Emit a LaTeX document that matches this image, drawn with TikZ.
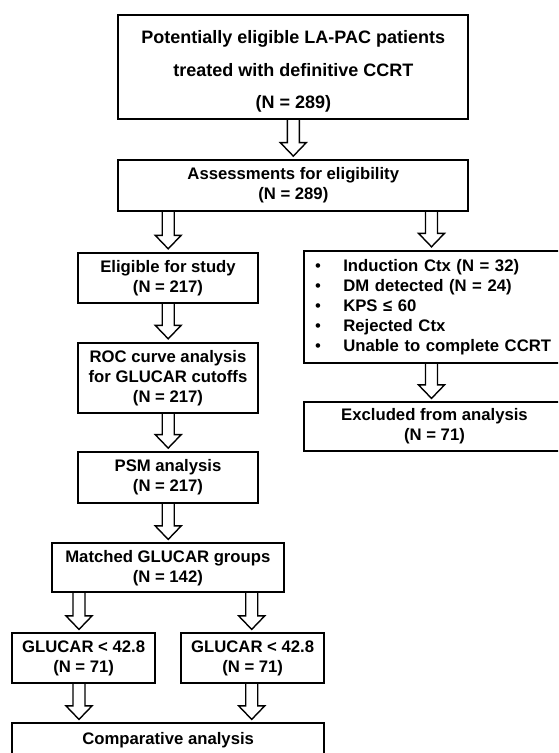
\documentclass[tikz,border=0pt]{standalone}
\usepackage{fontspec}
\setmainfont{Liberation Sans}
\usetikzlibrary{calc}
\tikzset{
  box/.style={draw=black, line width=1.8pt, inner sep=0pt, align=center,
    font=\fontsize{16.7}{20}\selectfont\bfseries},
  txt/.style={inner sep=0pt, align=center, font=\fontsize{16.7}{20}\selectfont\bfseries},
  fatarr/.style={draw=black, line width=1.4pt, line join=miter},
}
\newcommand\fatarrow[3]{%
  \draw[fatarr] let \p1=(#1.south -| #3), \p2=(#2.north -| #3) in
    (\x1-6pt,\y1) -- (\x1-6pt,\y2+16.5pt) -- (\x1-13pt,\y2+16.5pt) -- (\x1,\y2+3pt)
    -- (\x1+13pt,\y2+16.5pt) -- (\x1+6pt,\y2+16.5pt) -- (\x1+6pt,\y1);}
\newcommand\bul{\makebox[28.3pt][l]{\mdseries•}}
\begin{document}
\begin{tikzpicture}[x=1pt,y=1pt]
\useasboundingbox (0,0) rectangle (558,-753);
\clip (0,0) rectangle (558,-753);
\fill[white] (0,0) rectangle (558,-753);
% x positions of arrows
\coordinate (xa) at (293.3,0);
\coordinate (xl) at (168.2,0);
\coordinate (xr) at (431.5,0);
\coordinate (xg1) at (79,0);
\coordinate (xg2) at (251.7,0);
% boxes
\node[box, minimum width=350pt, minimum height=104pt] (top) at (293.3,-67) {};
\node[txt, font=\fontsize{18}{32.5}\selectfont\bfseries] (toptxt) at (293.3,-71.5)
  {Potentially eligible LA-PAC patients\\treated with definitive CCRT\\(N = 289)};
\node[box, minimum width=350pt, minimum height=50.7pt] (assess) at (293.3,-185.35)
  {Assessments for eligibility\\(N = 289)};
\node[box, minimum width=179.4pt, minimum height=50.6pt] (elig) at (168,-278)
  {Eligible for study\\(N = 217)};
\node[box, minimum width=179.4pt, minimum height=70.6pt] (roc) at (168,-378)
  {ROC curve analysis\\for GLUCAR cutoffs\\(N = 217)};
\node[box, minimum width=179.4pt, minimum height=50.7pt] (psm) at (168,-477.35)
  {PSM analysis\\(N = 217)};
\node[box, minimum width=232.3pt, minimum height=49pt] (match) at (167.85,-567.8)
  {Matched GLUCAR groups\\(N = 142)};
\node[box, minimum width=142.7pt, minimum height=50pt] (gl1) at (83.65,-658.3)
  {GLUCAR < 42.8\\(N = 71)};
\node[box, minimum width=143.3pt, minimum height=50pt] (gl2) at (252.65,-658.3)
  {GLUCAR < 42.8\\(N = 71)};
\node[box, minimum width=311.7pt, minimum height=60pt] (comp) at (168.15,-753.3) {};
\node[txt] (comptxt) at (168.15,-740.5) {Comparative analysis};
\node[box, minimum width=261pt, minimum height=112pt, text width=239pt,
      inner xsep=11pt, inner ysep=0pt, align=left] (list) at (434.5,-306.7)
  {\bul Induction Ctx (N = 32)\\
   \bul DM detected (N = 24)\\
   \bul KPS ≤ 60\\
   \bul Rejected Ctx\\
   \bul Unable to complete CCRT};
\node[box, minimum width=261pt, minimum height=48.4pt] (excl) at (434.5,-426.5)
  {Excluded from analysis\\(N = 71)};
% arrows
\fatarrow{top}{assess}{xa}
\fatarrow{assess}{elig}{xl}
\fatarrow{assess}{list}{xr}
\fatarrow{list}{excl}{xr}
\fatarrow{elig}{roc}{xl}
\fatarrow{roc}{psm}{xl}
\fatarrow{psm}{match}{xl}
\fatarrow{match}{gl1}{xg1}
\fatarrow{match}{gl2}{xg2}
\fatarrow{gl1}{comp}{xg1}
\fatarrow{gl2}{comp}{xg2}
\end{tikzpicture}
\end{document}
